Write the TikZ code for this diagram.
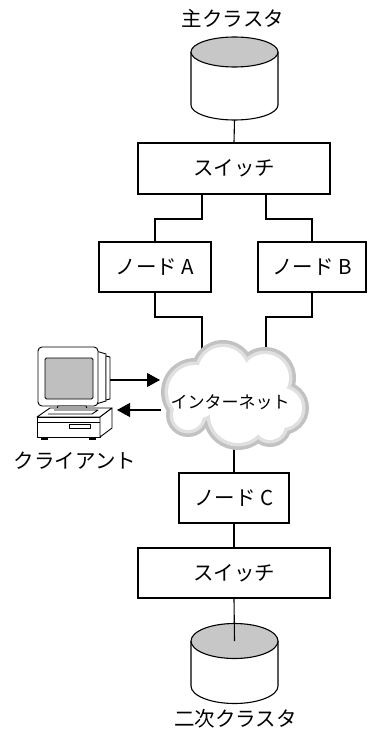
\documentclass[tikz,border=0pt]{standalone}
\usepackage{fontspec}
\setmainfont{Noto Sans CJK JP}
\usetikzlibrary{arrows.meta}

\tikzset{
  wire/.style={line width=1.1pt, black},
  boxnode/.style={draw, line width=1.1pt, fill=white, inner sep=0pt,
                  font=\fontsize{20.5}{20.5}\selectfont},
  label/.style={inner sep=0pt, font=\fontsize{20.5}{20.5}\selectfont},
  diskend/.style={fill=black!22},
  flow/.style={wire, -{Triangle[length=13pt,width=14pt]}},
}

% puffs of the internet cloud: {x}{y}{radius}
\newcommand\cloudpuffs[1]{%
  \foreach \cx/\cy/\cr in {223/372/32, 195/392/34, 265/378/31, 282/408/27,
                           238/415/35, 270/425/22, 188/415/22, 235/395/30}
    {\fill (\cx,\cy) circle[radius=\cr-#1];}}

\begin{document}
\begin{tikzpicture}[x=1pt,y=-1pt]
\useasboundingbox (0,0) rectangle (367,733);

% ---------- primary cluster (disk) ----------
\node[label] (plabel) at (233,18) {主クラスタ};
\coordinate (pdisk) at (234.5,52);
\coordinate (pdiskbot) at (234.5,120);
\filldraw[wire, fill=white] (191,52) -- (191,105)
  arc[start angle=180, end angle=0, x radius=43.5, y radius=15] -- (278,52);
\filldraw[wire, diskend] (pdisk) ellipse[x radius=43.5, y radius=15];

% ---------- upper switch and nodes ----------
\node[boxnode, minimum width=192, minimum height=51] (sw1) at (234,168.5) {スイッチ};
\node[boxnode, minimum width=112, minimum height=50] (na) at (155,267) {ノード A};
\node[boxnode, minimum width=108, minimum height=50] (nb) at (312,267) {ノード B};

\draw[wire] (pdiskbot) -- (sw1.north);

\coordinate (swL) at (202,194);
\coordinate (swR) at (266,194);
\draw[wire] (swL) -- (202,219) -| (na.north);
\draw[wire] (swR) -- (266,219) -| (nb.north);

% links from the nodes into the network (ends hidden under the cloud)
\coordinate (netinL) at (202,370);
\coordinate (netinR) at (266,370);
\draw[wire] (na.south) |- (202,317) -- (netinL);
\draw[wire] (nb.south) |- (266,317) -- (netinR);

% ---------- lower part ----------
\node[boxnode, minimum width=110, minimum height=50] (nc) at (234,498) {ノード C};
\node[boxnode, minimum width=192, minimum height=50] (sw2) at (234,573) {スイッチ};
\coordinate (netout) at (234,420);
\draw[wire] (netout) -- (nc.north);
\draw[wire] (nc.south) -- (sw2.north);

% ---------- secondary cluster (disk) ----------
\coordinate (sdisk) at (234.5,641);
\filldraw[wire, fill=white] (191,641) -- (191,686)
  arc[start angle=180, end angle=0, x radius=43.5, y radius=17.5] -- (278,641);
\filldraw[wire, diskend] (sdisk) ellipse[x radius=43.5, y radius=17.5];
\draw[wire] (sw2.south) -- (sdisk);
\node[label] (slabel) at (235.5,719) {二次クラスタ};

% ---------- internet cloud: darker rim, lighter rim, white body ----------
\begin{scope}[black!24]\cloudpuffs{0}\end{scope}
\begin{scope}[black!12]\cloudpuffs{3.5}\end{scope}
\begin{scope}[white]\cloudpuffs{7}\end{scope}
\node[label, font=\fontsize{17}{17}\selectfont] (net) at (230,402) {インターネット};

% ---------- client workstation ----------
\begin{scope}[line width=0.9pt, line join=round]
  % monitor side / back
  \filldraw[fill=white] (96,351) -- (106,354) -- (106,401) -- (96,404) -- cycle;
  \filldraw[fill=white] (106,356) -- (110,357) -- (110,399) -- (106,400) -- cycle;
  % monitor front bezel and screen
  \filldraw[fill=white, rounded corners=4pt] (38,347) rectangle (98,406);
  \filldraw[fill=black!25, rounded corners=1.5pt] (45,358) rectangle (93,399);
  % neck
  \filldraw[fill=white] (58,406) -- (86,406) -- (88,411) -- (56,411) -- cycle;
  % base unit: top, front, side
  \filldraw[fill=white] (50,408) -- (112,408) -- (100,417) -- (37,417) -- cycle;
  \draw (54,410) -- (98,410) -- (92,414) -- (48,414);
  \filldraw[fill=white] (37,417) rectangle (100,437);
  \filldraw[fill=white] (100,417) -- (112,408) -- (112,428) -- (100,437) -- cycle;
  \draw (37,422) -- (100,422);
  \draw (69,424) rectangle (90,428);
  % feet
  \fill (41,437) rectangle (48,440);
  \fill (89,437) rectangle (96,440);
\end{scope}
\node[label] (clabel) at (75,461) {クライアント};

\coordinate (pcout) at (110,380);
\coordinate (pcin) at (117,410);
\coordinate (netedgeU) at (160,380);
\coordinate (netedgeL) at (161,410);
\draw[flow] (pcout) -- (netedgeU);
\draw[flow] (netedgeL) -- (pcin);

\end{tikzpicture}
\end{document}
